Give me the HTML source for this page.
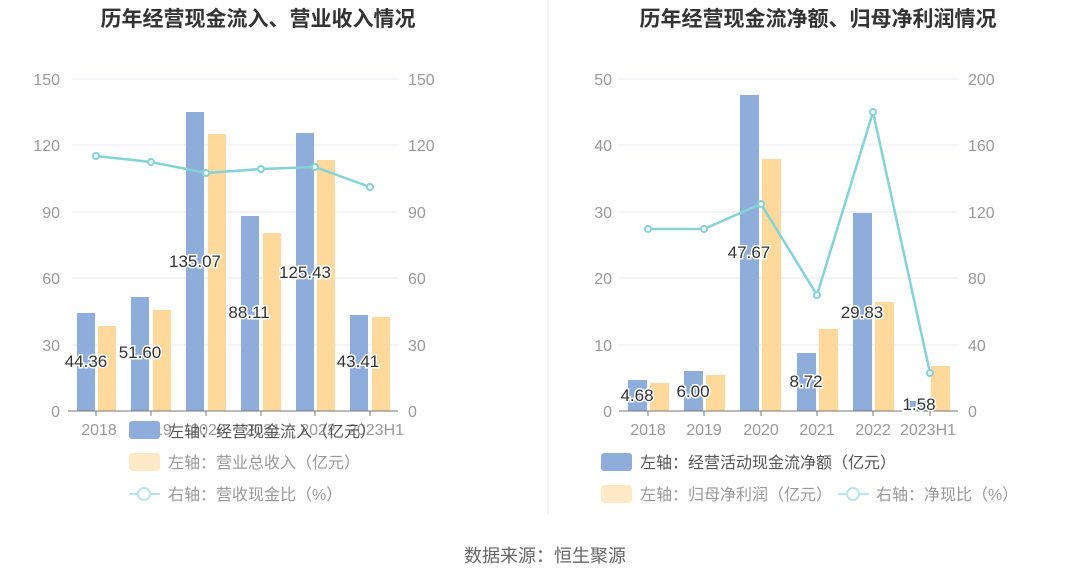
<!DOCTYPE html>
<html><head><meta charset="utf-8"><style>
body{margin:0;background:#fff;}
svg{display:block;font-family:"Liberation Sans","Noto Sans CJK SC",sans-serif;}
.ax{fill:#999;font-size:16px;}
.lg{fill:#999;font-size:16px;}
.vl{fill:#333;font-size:17px;stroke:#fff;stroke-width:3px;paint-order:stroke;text-anchor:middle;}
.ti{fill:#333;font-size:21px;font-weight:bold;text-anchor:middle;}
</style></head><body>
<svg width="1090" height="582" viewBox="0 0 1090 582">
<text class="ti" x="258" y="26">历年经营现金流入、营业收入情况</text>
<text class="ti" x="818" y="26">历年经营现金流净额、归母净利润情况</text>
<line x1="548" y1="0" x2="548" y2="515" stroke="#eee"/>
<!-- left chart -->
<g stroke="#e6eaf4">
<line x1="72" y1="79" x2="398" y2="79"/><line x1="72" y1="145" x2="398" y2="145"/><line x1="72" y1="212" x2="398" y2="212"/><line x1="72" y1="278" x2="398" y2="278"/><line x1="72" y1="345" x2="398" y2="345"/>
</g>
<g class="ax" text-anchor="end">
<text x="60" y="85">150</text><text x="60" y="151">120</text><text x="60" y="218">90</text><text x="60" y="284">60</text><text x="60" y="351">30</text><text x="60" y="417">0</text>
</g>
<g class="ax">
<text x="408" y="85">150</text><text x="408" y="151">120</text><text x="408" y="218">90</text><text x="408" y="284">60</text><text x="408" y="351">30</text><text x="408" y="417">0</text>
</g>
<g fill="#8eadda">
<rect x="77" y="313" width="18" height="98"/><rect x="131" y="297" width="18" height="114"/><rect x="186" y="112" width="18" height="299"/><rect x="241" y="216" width="18" height="195"/><rect x="296" y="133" width="18" height="278"/><rect x="350" y="315" width="18" height="96"/>
</g>
<g fill="#ffd99b">
<rect x="98" y="326" width="18" height="85"/><rect x="153" y="310" width="18" height="101"/><rect x="208" y="134" width="18" height="277"/><rect x="263" y="233" width="18" height="178"/><rect x="317" y="160" width="18" height="251"/><rect x="372" y="317" width="18" height="94"/>
</g>
<line x1="68" y1="411" x2="398" y2="411" stroke="#777"/>
<g stroke="#777"><line x1="96" y1="411" x2="96" y2="416"/><line x1="151" y1="411" x2="151" y2="416"/><line x1="206" y1="411" x2="206" y2="416"/><line x1="261" y1="411" x2="261" y2="416"/><line x1="315" y1="411" x2="315" y2="416"/><line x1="370" y1="411" x2="370" y2="416"/></g>
<g class="ax" text-anchor="middle"><text x="99" y="435">2018</text><text x="154" y="435">2019</text><text x="208" y="435">2020</text><text x="263" y="435">2021</text><text x="318" y="435">2022</text><text x="376" y="435">2023H1</text></g>
<polyline points="96,156 151,162 206,173 261,169 315,167 370,187" fill="none" stroke="#84d3d6" stroke-width="2.5"/>
<g fill="#fff" stroke="#84d3d6" stroke-width="2"><circle cx="96" cy="156" r="3"/><circle cx="151" cy="162" r="3"/><circle cx="206" cy="173" r="3"/><circle cx="261" cy="169" r="3"/><circle cx="315" cy="167" r="3"/><circle cx="370" cy="187" r="3"/></g>
<text class="vl" x="86" y="367">44.36</text><text class="vl" x="140" y="358">51.60</text><text class="vl" x="195" y="267">135.07</text><text class="vl" x="249" y="318">88.11</text><text class="vl" x="305" y="278">125.43</text><text class="vl" x="358" y="367">43.41</text>
<rect x="129" y="421" width="31" height="18" rx="3" fill="#8eadda"/>
<text class="lg" x="168" y="437" style="fill:#555">左轴：经营现金流入（亿元）</text>
<rect x="129" y="453" width="31" height="18" rx="3" fill="#ffe9c6"/>
<text class="lg" x="168" y="468">左轴：营业总收入（亿元）</text>
<line x1="129" y1="494" x2="160" y2="494" stroke="#b8e7e9" stroke-width="2"/><circle cx="144" cy="494" r="6" fill="#fff" stroke="#b8e7e9" stroke-width="2"/>
<text class="lg" x="168" y="500">右轴：营收现金比（%）</text>
<!-- right chart -->
<g stroke="#e6eaf4">
<line x1="619" y1="79" x2="958" y2="79"/><line x1="619" y1="145" x2="958" y2="145"/><line x1="619" y1="212" x2="958" y2="212"/><line x1="619" y1="278" x2="958" y2="278"/><line x1="619" y1="345" x2="958" y2="345"/>
</g>
<g class="ax" text-anchor="end">
<text x="612" y="85">50</text><text x="612" y="151">40</text><text x="612" y="218">30</text><text x="612" y="284">20</text><text x="612" y="351">10</text><text x="612" y="417">0</text>
</g>
<g class="ax">
<text x="968" y="85">200</text><text x="968" y="151">160</text><text x="968" y="218">120</text><text x="968" y="284">80</text><text x="968" y="351">40</text><text x="968" y="417">0</text>
</g>
<g fill="#8eadda">
<rect x="628" y="380" width="19" height="31"/><rect x="684" y="371" width="19" height="40"/><rect x="740" y="95" width="19" height="316"/><rect x="797" y="353" width="19" height="58"/><rect x="853" y="213" width="19" height="198"/><rect x="909" y="401" width="19" height="10"/>
</g>
<g fill="#ffd99b">
<rect x="650" y="383" width="19" height="28"/><rect x="706" y="375" width="19" height="36"/><rect x="762" y="159" width="19" height="252"/><rect x="819" y="329" width="19" height="82"/><rect x="875" y="302" width="19" height="109"/><rect x="931" y="366" width="19" height="45"/>
</g>
<line x1="619" y1="411" x2="958" y2="411" stroke="#777"/>
<g stroke="#777"><line x1="648" y1="411" x2="648" y2="416"/><line x1="704" y1="411" x2="704" y2="416"/><line x1="761" y1="411" x2="761" y2="416"/><line x1="817" y1="411" x2="817" y2="416"/><line x1="873" y1="411" x2="873" y2="416"/><line x1="930" y1="411" x2="930" y2="416"/></g>
<g class="ax" text-anchor="middle"><text x="648" y="435">2018</text><text x="704" y="435">2019</text><text x="761" y="435">2020</text><text x="817" y="435">2021</text><text x="873" y="435">2022</text><text x="928" y="435">2023H1</text></g>
<polyline points="648,229 704,229 761,204 817,295 873,112 930,373" fill="none" stroke="#84d3d6" stroke-width="2.5"/>
<g fill="#fff" stroke="#84d3d6" stroke-width="2"><circle cx="648" cy="229" r="3"/><circle cx="704" cy="229" r="3"/><circle cx="761" cy="204" r="3"/><circle cx="817" cy="295" r="3"/><circle cx="873" cy="112" r="3"/><circle cx="930" cy="373" r="3"/></g>
<text class="vl" x="637" y="401">4.68</text><text class="vl" x="693" y="397">6.00</text><text class="vl" x="749" y="258">47.67</text><text class="vl" x="806" y="387">8.72</text><text class="vl" x="862" y="318">29.83</text><text class="vl" x="919" y="410">1.58</text>
<rect x="601" y="453" width="31" height="18" rx="3" fill="#8eadda"/>
<text class="lg" x="640" y="468" style="fill:#555">左轴：经营活动现金流净额（亿元）</text>
<rect x="601" y="485" width="31" height="18" rx="3" fill="#ffe9c6"/>
<text class="lg" x="640" y="500">左轴：归母净利润（亿元）</text>
<line x1="838" y1="494" x2="869" y2="494" stroke="#b8e7e9" stroke-width="2"/><circle cx="853" cy="494" r="6" fill="#fff" stroke="#b8e7e9" stroke-width="2"/>
<text class="lg" x="876" y="500">右轴：净现比（%）</text>
<text x="545" y="562" text-anchor="middle" style="fill:#666;font-size:18px">数据来源：恒生聚源</text>
</svg>
</body></html>
